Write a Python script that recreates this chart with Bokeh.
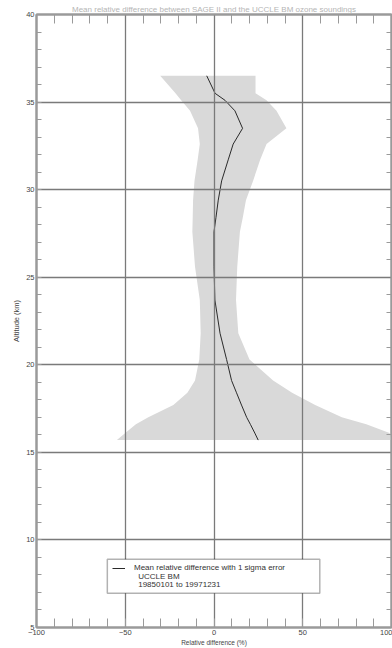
from bokeh.plotting import figure
from bokeh.models import (LinearAxis, SingleIntervalTicker, FixedTicker, BoxAnnotation, Label,
                          Legend, LegendItem, Range1d, ColumnDataSource)
from bokeh.embed import file_html
from bokeh.resources import INLINE

# ---- data ----
altitude = [36.5, 35.5, 35.1, 34.5, 33.5, 32.6, 31.7, 30.5, 29.4, 28.4, 27.6, 25.6,
            23.7, 21.8, 20.3, 19.1, 18.4, 17.7, 17.0, 16.6, 16.1, 15.7]
mean_diff = [-4.1, 0.6, 6.2, 11.8, 16.1, 10.8, 8.0, 4.3, 2.4, 1.1, 0.0, 0.0,
             0.5, 3.4, 7.1, 9.9, 12.7, 15.5, 18.4, 20.5, 23.0, 24.9]
sigma_low = [-30.3, -21.7, -18.5, -13.5, -9.0, -8.0, -9.2, -11.0, -11.8, -12.0, -12.2, -10.7,
             -8.0, -7.5, -8.3, -10.7, -15.0, -22.9, -37.0, -44.0, -50.0, -54.7]
sigma_high = [23.4, 23.4, 29.6, 35.2, 40.8, 29.6, 26.0, 22.0, 18.0, 16.2, 14.6, 13.1,
              12.4, 13.7, 20.0, 33.3, 44.0, 57.0, 72.0, 85.8, 98.9, 100.0]

x_limits = (-100, 100)
y_limits = (5, 40)
x_minor_ticks = [-90, -80, -70, -60, -40, -30, -20, -10, 10, 20, 30, 40, 60, 70, 80, 90]
y_minor_ticks = [6, 7, 8, 9, 11, 12, 13, 14, 16, 17, 18, 19, 21, 22, 23, 24, 26, 27, 28, 29,
                 31, 32, 33, 34, 36, 37, 38, 39]
title_text = "Mean relative difference between SAGE II and the UCCLE BM ozone soundings"
legend_lines = ["Mean relative difference with 1 sigma error", "UCCLE BM", "19850101 to  19971231"]
x_label = "Relative difference (%)"
y_label = "Altitude (km)"

FONT = "Liberation Sans"
AX_COL = "#9a9a9a"
TXT_COL = "#444444"

src = ColumnDataSource(dict(alt=altitude, mean=mean_diff, lo=sigma_low, hi=sigma_high))

p = figure(width=392, height=648, output_backend="svg", toolbar_location=None,
           x_range=Range1d(*x_limits), y_range=Range1d(*y_limits),
           min_border_left=36, min_border_right=1, min_border_top=14, min_border_bottom=21,
           title=title_text)
p.title.text_font = FONT
p.title.text_font_size = "8px"
p.title.text_font_style = "normal"
p.title.text_color = "#b5b5b5"
p.title.align = "center"
p.title.standoff = 2
p.title.offset = 0
p.outline_line_color = AX_COL
p.outline_line_width = 2
p.background_fill_color = "white"

xt = SingleIntervalTicker(interval=50, num_minor_ticks=5)
yt = SingleIntervalTicker(interval=5, num_minor_ticks=5)

band = p.harea(x1="lo", x2="hi", y="alt", source=src, fill_color="#d9d9d9", level="underlay")
line = p.line(x="mean", y="alt", source=src, line_color="#2a2a2a", line_width=1)

for g, t in ((p.xgrid[0], xt), (p.ygrid[0], yt)):
    g.ticker = t
    g.grid_line_color = "#7a7a7a"
    g.grid_line_width = 1.3
    g.level = "glyph"


def style_axis(ax, ticker, tick_len, labels=True):
    ax.ticker = ticker
    ax.axis_line_color = AX_COL
    ax.axis_line_width = 2
    ax.major_tick_in = 0
    ax.major_tick_out = 0
    ax.minor_tick_in = tick_len
    ax.minor_tick_out = 0
    ax.minor_tick_line_color = AX_COL
    ax.minor_tick_line_width = 1
    if labels:
        ax.major_label_text_font = FONT
        ax.major_label_text_font_size = "7.5px"
        ax.major_label_text_color = TXT_COL
        ax.major_label_standoff = 2
        ax.axis_label_text_font = FONT
        ax.axis_label_text_color = TXT_COL
        ax.axis_label_text_font_style = "normal"
        ax.axis_label_standoff = 1


style_axis(p.xaxis[0], xt, 9)
p.xaxis[0].axis_label = x_label
p.xaxis[0].axis_label_text_font_size = "6.5px"
style_axis(p.yaxis[0], yt, 5)
p.yaxis[0].axis_label = y_label
p.yaxis[0].axis_label_text_font_size = "7.5px"
p.yaxis[0].axis_label_standoff = 2

top_ax = LinearAxis()
style_axis(top_ax, FixedTicker(ticks=[], minor_ticks=x_minor_ticks), 9, labels=False)
p.add_layout(top_ax, "above")
right_ax = LinearAxis()
style_axis(right_ax, FixedTicker(ticks=[], minor_ticks=y_minor_ticks), 5, labels=False)
p.add_layout(right_ax, "right")

# legend box
box = BoxAnnotation(left=-60.1, right=59.6, bottom=6.95, top=8.89,
                    fill_color="white", fill_alpha=1, line_color="black", line_width=1.5)
p.add_layout(box)

legend = Legend(items=[LegendItem(label=legend_lines[0], renderers=[line])],
                location=(76, 55), glyph_width=13, glyph_height=8, label_standoff=9,
                padding=0, margin=0, spacing=0, border_line_alpha=0, background_fill_alpha=0,
                label_text_font=FONT, label_text_font_size="8px", label_text_color="#333333",
                label_height=8)
p.add_layout(legend)

for txt, yy in ((legend_lines[1], 7.92), (legend_lines[2], 7.47)):
    p.add_layout(Label(x=-42.7, y=yy, text=txt, text_font=FONT, text_font_size="8px",
                       text_color="#333333", text_baseline="middle"))

open("out.html", "w").write(file_html(p, INLINE))
